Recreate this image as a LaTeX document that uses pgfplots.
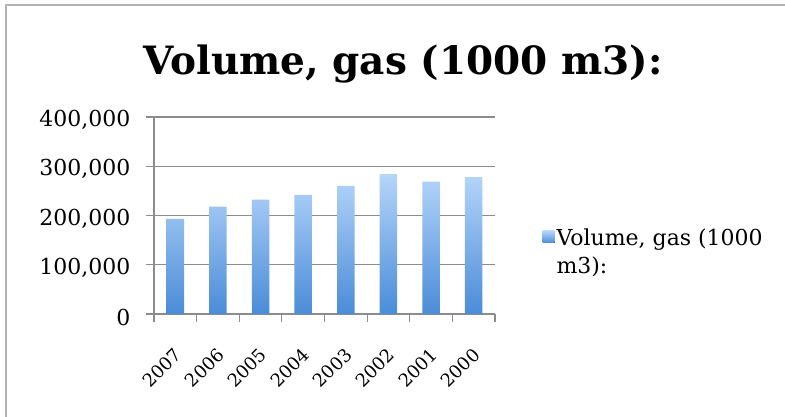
\documentclass[border=0pt]{standalone}
\usepackage{pgfplots}
\pgfplotsset{compat=1.18}
\usepackage{fontspec}
\setmainfont{DejaVu Serif}
\definecolor{gridgray}{HTML}{8C8C8C}
\definecolor{framegray}{HTML}{B3B3B3}
\definecolor{bartop}{HTML}{B5D5FA}
\definecolor{barbottom}{HTML}{4A8CD8}
\begin{document}
\begin{tikzpicture}[x=1pt,y=1pt]
\path[use as bounding box] (0,0) rectangle (785,416);
\draw[framegray, line width=2.5pt] (6,-20) -- (6,411) -- (800,411);
\node[anchor=base, font=\fontsize{39}{42}\selectfont\bfseries] at (403,341) {Volume, gas (1000 m3):};
\begin{axis}[
  at={(154pt,102pt)}, anchor=south west,
  scale only axis, width=341pt, height=197pt,
  ymin=0, ymax=400000,
  ytick={0,100000,200000,300000,400000},
  scaled y ticks=false,
  yticklabel style={/pgf/number format/fixed, /pgf/number format/1000 sep={,},
    /pgf/number format/assume math mode=true},
  xmin=-0.5, xmax=7.5,
  xtick={0,...,7},
  xticklabels={2007,2006,2005,2004,2003,2002,2001,2000},
  minor xtick={-0.5,0.5,...,7.5},
  major x tick style={draw=none},
  tick align=outside,
  major tick length=8pt, minor tick length=8pt,
  tick style={gridgray, line width=1.2pt},
  axis x line*=bottom, axis y line*=left,
  axis line style={gridgray, line width=1.2pt},
  ymajorgrids, grid style={gridgray, line width=1.2pt},
  y tick label style={font=\fontsize{22}{26}\selectfont, xshift=-12pt, yshift=-3pt},
  x tick label style={font=\fontsize{18}{22}\selectfont, xshift=-2pt, yshift=-20pt,
    rotate=45, anchor=north east},
  legend style={draw=none, fill=none, at={(1.13,0.315)}, anchor=west,
    font=\fontsize{22}{28}\selectfont, cells={anchor=west, align=left}},
  legend image code/.code={\fill[top color=bartop, bottom color=barbottom] (-1pt,9pt) rectangle (11pt,21pt);},
]
\addplot[ybar, bar width=17.6pt, draw=none, top color=bartop, bottom color=barbottom]
  coordinates {(0,193000) (1,218000) (2,232000) (3,242000) (4,260000) (5,284000) (6,269000) (7,278000)};
\addlegendentry{Volume, gas (1000\\m3):}
\end{axis}
\end{tikzpicture}
\end{document}
